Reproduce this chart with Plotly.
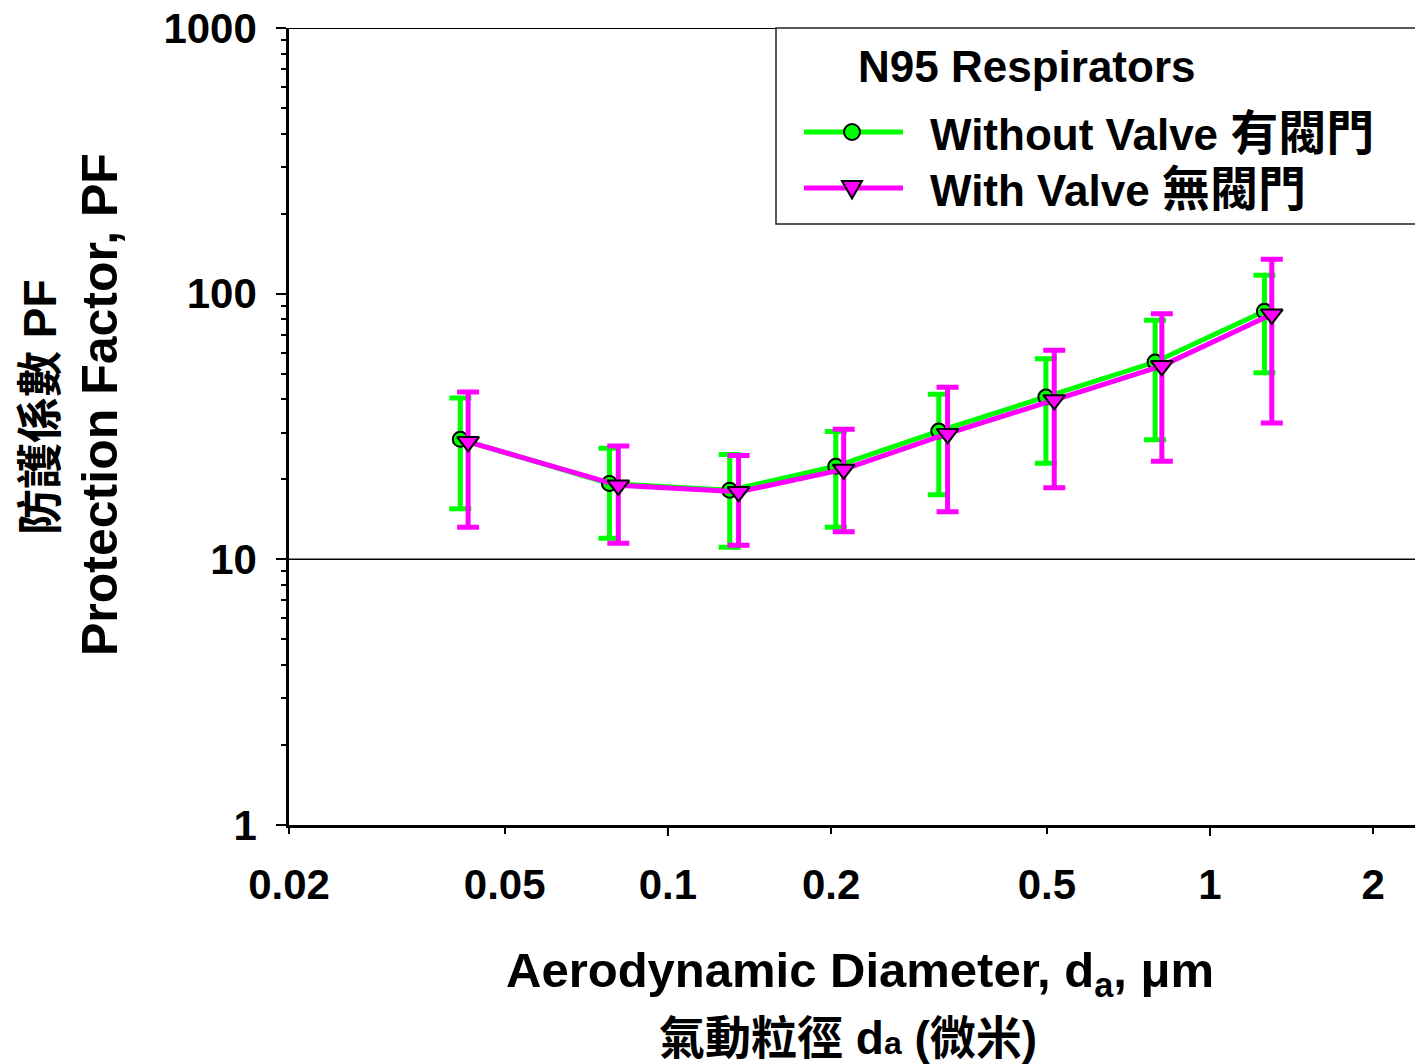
import math
import plotly.graph_objects as go

# ---------------- data ----------------
diam_without = [0.0414, 0.078, 0.130, 0.204, 0.316, 0.498, 0.792, 1.26]
pf_without = [28.3, 19.3, 18.2, 22.4, 30.4, 40.8, 55.3, 85.8]
pf_without_hi = [40.5, 26.2, 24.8, 30.3, 41.8, 56.9, 79.4, 117.2]
pf_without_lo = [15.5, 12.0, 11.1, 13.2, 17.5, 23.0, 28.2, 50.4]

diam_with = [0.0428, 0.081, 0.135, 0.211, 0.328, 0.516, 0.815, 1.30]
pf_with = [27.7, 19.0, 17.95, 21.8, 29.7, 39.8, 53.5, 83.6]
pf_with_hi = [42.6, 26.7, 24.6, 30.9, 44.4, 61.2, 84.1, 134.7]
pf_with_lo = [13.2, 11.5, 11.3, 12.7, 15.1, 18.6, 23.4, 32.6]

x_tickvals = [0.02, 0.05, 0.1, 0.2, 0.5, 1, 2]
x_ticktext = ["0.02", "0.05", "0.1", "0.2", "0.5", "1", "2"]
x_long_ticks = [0.1, 1]
y_tickvals = [1, 10, 100, 1000]
y_ticktext = ["1", "10", "100", "1000"]
y_minor = [m * 10 ** e for e in range(0, 3) for m in range(2, 10)]

legend_title = "N95 Respirators"
name_without = 'Without Valve <span style="font-size:48px">有閥門</span>'
name_with = 'With Valve <span style="font-size:48px">無閥門</span>'
x_title_en = "Aerodynamic Diameter, d<sub>a</sub>, μm"
x_title_zh = '氣動粒徑 d<span style="font-size:32px">a</span> (微米)'
y_title_en = "Protection Factor, PF"
y_title_zh = "防護係數 PF"

GREEN = "#00FF00"
PINK = "#FF00FF"
FONT = "Liberation Sans, Arial, Noto Sans CJK TC, sans-serif"

W, H = 1415, 1064
L, R, T, B = 289, 0, 28, 239
PW, PH = W - L - R, H - T - B


def px(xp):
    return (xp - L) / PW


def py(yp):
    return (H - B - yp) / PH


def diff(a, b):
    return [round(x - y, 4) for x, y in zip(a, b)]


fig = go.Figure()

fig.add_trace(go.Scatter(
    x=diam_without, y=pf_without, mode="lines+markers", name="Without Valve",
    line=dict(color=GREEN, width=5),
    marker=dict(symbol="circle", size=15, color=GREEN, line=dict(color="black", width=2)),
    error_y=dict(type="data", symmetric=False,
                 array=diff(pf_without_hi, pf_without),
                 arrayminus=diff(pf_without, pf_without_lo),
                 color=GREEN, thickness=5, width=11),
    showlegend=False,
))
fig.add_trace(go.Scatter(
    x=diam_with, y=pf_with, mode="lines+markers", name="With Valve",
    line=dict(color=PINK, width=5),
    marker=dict(symbol="triangle-down", size=19, color=PINK, line=dict(color="black", width=2)),
    error_y=dict(type="data", symmetric=False,
                 array=diff(pf_with_hi, pf_with),
                 arrayminus=diff(pf_with, pf_with_lo),
                 color=PINK, thickness=5, width=11),
    showlegend=False,
))

x0 = math.log10(0.02)
decade_px = 542.1
fig.update_xaxes(
    type="log", range=[x0, x0 + PW / decade_px],
    tickvals=x_tickvals, ticktext=x_ticktext,
    ticks="outside", ticklen=6, tickwidth=2, tickcolor="black",
    showline=True, linewidth=2.5, linecolor="black",
    showgrid=False, zeroline=False,
    tickfont=dict(family=FONT, size=42, color="black", weight="bold"),
    ticklabelstandoff=15,
)
fig.update_yaxes(
    type="log", range=[0, 3],
    tickvals=y_tickvals, ticktext=y_ticktext,
    ticks="outside", ticklen=10, tickwidth=2, tickcolor="black",
    minor=dict(tickvals=y_minor, ticks="outside", ticklen=5, tickwidth=1.5, tickcolor="black", showgrid=False),
    showline=True, linewidth=2.5, linecolor="black",
    showgrid=False, zeroline=False,
    tickfont=dict(family=FONT, size=42, color="black", weight="bold"),
    ticklabelstandoff=11,
)

shapes = []
# reference line at 10 and top frame at 1000
shapes.append(dict(type="line", xref="x domain", yref="y", x0=0, x1=1, y0=10, y1=10,
                   line=dict(color="black", width=1.5)))
shapes.append(dict(type="line", xref="x domain", yref="y", x0=0, x1=1, y0=1000, y1=1000,
                   line=dict(color="black", width=2)))
# longer ticks at decades
for v in x_long_ticks:
    shapes.append(dict(type="line", xref="x", yref="paper", x0=v, x1=v, y0=0, y1=-11 / PH,
                       line=dict(color="black", width=2)))
# legend box
shapes.append(dict(type="rect", xref="paper", yref="paper", x0=px(776), x1=1.05, y0=py(224), y1=py(28),
                   line=dict(color="#222222", width=1.5), fillcolor="white", layer="above"))
# legend samples
shapes.append(dict(type="line", xref="paper", yref="paper", x0=px(804), x1=px(903), y0=py(132), y1=py(132),
                   line=dict(color=GREEN, width=5), layer="above"))
shapes.append(dict(type="circle", xref="paper", yref="paper", xsizemode="pixel", ysizemode="pixel",
                   xanchor=px(852), yanchor=py(132), x0=-8, x1=8, y0=-8, y1=8,
                   fillcolor=GREEN, line=dict(color="black", width=2), layer="above"))
shapes.append(dict(type="line", xref="paper", yref="paper", x0=px(804), x1=px(903), y0=py(188), y1=py(188),
                   line=dict(color=PINK, width=5), layer="above"))
shapes.append(dict(type="path", xref="paper", yref="paper", xsizemode="pixel", ysizemode="pixel",
                   xanchor=px(852), yanchor=py(189), path="M-10,8 L10,8 L0,-9.5 Z",
                   fillcolor=PINK, line=dict(color="black", width=2), layer="above"))

annotations = []
annotations.append(dict(text=legend_title, xref="paper", yref="paper", x=px(856), y=py(66),
                        xanchor="left", yanchor="middle", showarrow=False,
                        font=dict(family=FONT, size=44, color="black", weight="bold")))
annotations.append(dict(text=name_without, xref="paper", yref="paper", x=px(928), y=py(133),
                        xanchor="left", yanchor="middle", showarrow=False,
                        font=dict(family=FONT, size=44, color="black", weight="bold")))
annotations.append(dict(text=name_with, xref="paper", yref="paper", x=px(928), y=py(190),
                        xanchor="left", yanchor="middle", showarrow=False,
                        font=dict(family=FONT, size=44, color="black", weight="bold")))
annotations.append(dict(text=x_title_en, xref="paper", yref="paper", x=px(860), y=py(973),
                        xanchor="center", yanchor="middle", showarrow=False,
                        font=dict(family=FONT, size=49, color="black", weight="bold")))
annotations.append(dict(text=x_title_zh, xref="paper", yref="paper", x=px(848), y=py(1038),
                        xanchor="center", yanchor="middle", showarrow=False,
                        font=dict(family=FONT, size=46, color="black", weight="bold")))
annotations.append(dict(text=y_title_en, xref="paper", yref="paper", x=px(100), y=py(405),
                        xanchor="center", yanchor="middle", showarrow=False, textangle=-90,
                        font=dict(family=FONT, size=50, color="black", weight="bold")))
annotations.append(dict(text=y_title_zh, xref="paper", yref="paper", x=px(40), y=py(407),
                        xanchor="center", yanchor="middle", showarrow=False, textangle=-90,
                        font=dict(family=FONT, size=46, color="black", weight="bold")))

fig.update_layout(
    width=W, height=H,
    margin=dict(l=L, r=R, t=T, b=B),
    paper_bgcolor="white", plot_bgcolor="white",
    shapes=shapes, annotations=annotations,
    showlegend=False,
)

fig.write_html("out.html")
